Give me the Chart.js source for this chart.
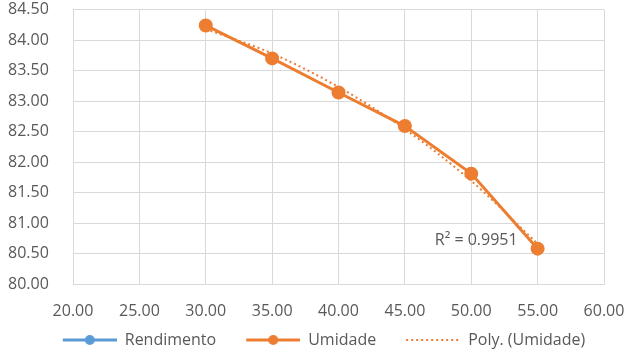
<!DOCTYPE html>
<html lang="pt">
<head>
    <meta charset="UTF-8">
    <title>Umidade</title>
    <script src="https://cdn.jsdelivr.net/npm/chart.js"></script>
    <style>
        html, body { margin: 0; padding: 0; background: #ffffff; }
        #wrap { width: 640px; height: 360px; }
    </style>
</head>
<body>
    <div id="wrap"><canvas id="chart" width="640" height="360"></canvas></div>

    <script>
        // Data
        const xValues = [30, 35, 40, 45, 50, 55];
        const umidade = [84.24, 83.70, 83.14, 82.59, 81.81, 80.58];
        const polyUmidade = [84.18, 83.78, 83.23, 82.54, 81.69, 80.66];
        const rendimento = [];
        const r2Label = 'R² = 0.9951';

        const blue = '#5B9BD5';
        const orange = '#ED7D31';
        const textColor = '#595959';
        const gridColor = '#D9D9D9';
        const fontFamily = "'Open Sans', 'Liberation Sans', sans-serif";

        // small legend swatches (line + marker), with blank space on the left as item gap
        const gap = 22;
        function swatch(color, dotted, marker) {
            const c = document.createElement('canvas');
            c.width = 54 + gap; c.height = 12;
            const g = c.getContext('2d');
            g.strokeStyle = color;
            g.lineWidth = dotted ? 2 : 3;
            if (dotted) g.setLineDash([2, 3]);
            g.beginPath(); g.moveTo(gap, 6); g.lineTo(gap + 54, 6); g.stroke();
            if (marker) {
                g.setLineDash([]);
                g.fillStyle = color;
                g.beginPath(); g.arc(gap + 27, 6, 5, 0, Math.PI * 2); g.fill();
            }
            return c;
        }
        const legendIcons = [swatch(blue, false, true), swatch(orange, false, true), swatch(orange, true, false)];

        const toPoints = (ys) => ys.map((y, i) => ({ x: xValues[i], y: y }));

        // R² label next to the last trend point
        const r2Plugin = {
            id: 'r2',
            afterDatasetsDraw(chart) {
                const { ctx, scales } = chart;
                const n = xValues.length - 1;
                const px = scales.x.getPixelForValue(xValues[n]) - 20;
                const py = scales.y.getPixelForValue(polyUmidade[n]) - 3;
                ctx.save();
                ctx.font = '16px ' + fontFamily;
                ctx.fillStyle = textColor;
                ctx.textAlign = 'right';
                ctx.textBaseline = 'middle';
                ctx.fillText(r2Label, px, py);
                ctx.restore();
            }
        };

        new Chart(document.getElementById('chart'), {
            type: 'scatter',
            data: {
                datasets: [
                    {
                        label: 'Rendimento',
                        data: rendimento,
                        showLine: true,
                        borderColor: blue,
                        backgroundColor: blue,
                        borderWidth: 3,
                        pointRadius: 5
                    },
                    {
                        label: 'Umidade',
                        data: toPoints(umidade),
                        showLine: true,
                        borderColor: orange,
                        backgroundColor: orange,
                        borderWidth: 3,
                        pointRadius: 5.5,
                        pointHoverRadius: 5.5
                    },
                    {
                        label: 'Poly. (Umidade)',
                        data: toPoints(polyUmidade),
                        showLine: true,
                        borderColor: orange,
                        borderWidth: 2,
                        borderDash: [2, 3],
                        cubicInterpolationMode: 'monotone',
                        pointRadius: 0
                    }
                ]
            },
            options: {
                responsive: false,
                animation: false,
                layout: { autoPadding: false, padding: { top: 1, left: 8, right: 22, bottom: 2 } },
                scales: {
                    x: {
                        type: 'linear',
                        min: 20,
                        max: 60,
                        afterFit: (scale) => {
                            scale.height = 40;
                            scale.paddingRight = 36;
                        },
                        ticks: {
                            stepSize: 5,
                            color: textColor,
                            font: { family: fontFamily, size: 16 },
                            padding: 18,
                            callback: (v) => v.toFixed(2)
                        },
                        grid: { color: gridColor, lineWidth: 1, drawTicks: false },
                        border: { color: gridColor }
                    },
                    y: {
                        min: 80,
                        max: 84.5,
                        afterFit: (scale) => { scale.width = 65; },
                        ticks: {
                            stepSize: 0.5,
                            color: textColor,
                            font: { family: fontFamily, size: 16 },
                            padding: 0,
                            crossAlign: 'far',
                            callback: (v) => v.toFixed(2)
                        },
                        grid: { color: gridColor, lineWidth: 1, drawTicks: false },
                        border: { color: gridColor }
                    }
                },
                plugins: {
                    tooltip: { enabled: false },
                    legend: {
                        position: 'bottom',
                        labels: {
                            usePointStyle: true,
                            pointStyleWidth: 54 + gap,
                            padding: 8,
                            color: textColor,
                            font: { family: fontFamily, size: 16 },
                            generateLabels: (chart) => chart.data.datasets.map((ds, i) => ({
                                text: ds.label,
                                pointStyle: legendIcons[i],
                                fontColor: textColor,
                                lineWidth: 0,
                                strokeStyle: 'transparent',
                                fillStyle: 'transparent',
                                datasetIndex: i
                            }))
                        }
                    }
                }
            },
            plugins: [r2Plugin]
        });
    </script>
</body>
</html>
